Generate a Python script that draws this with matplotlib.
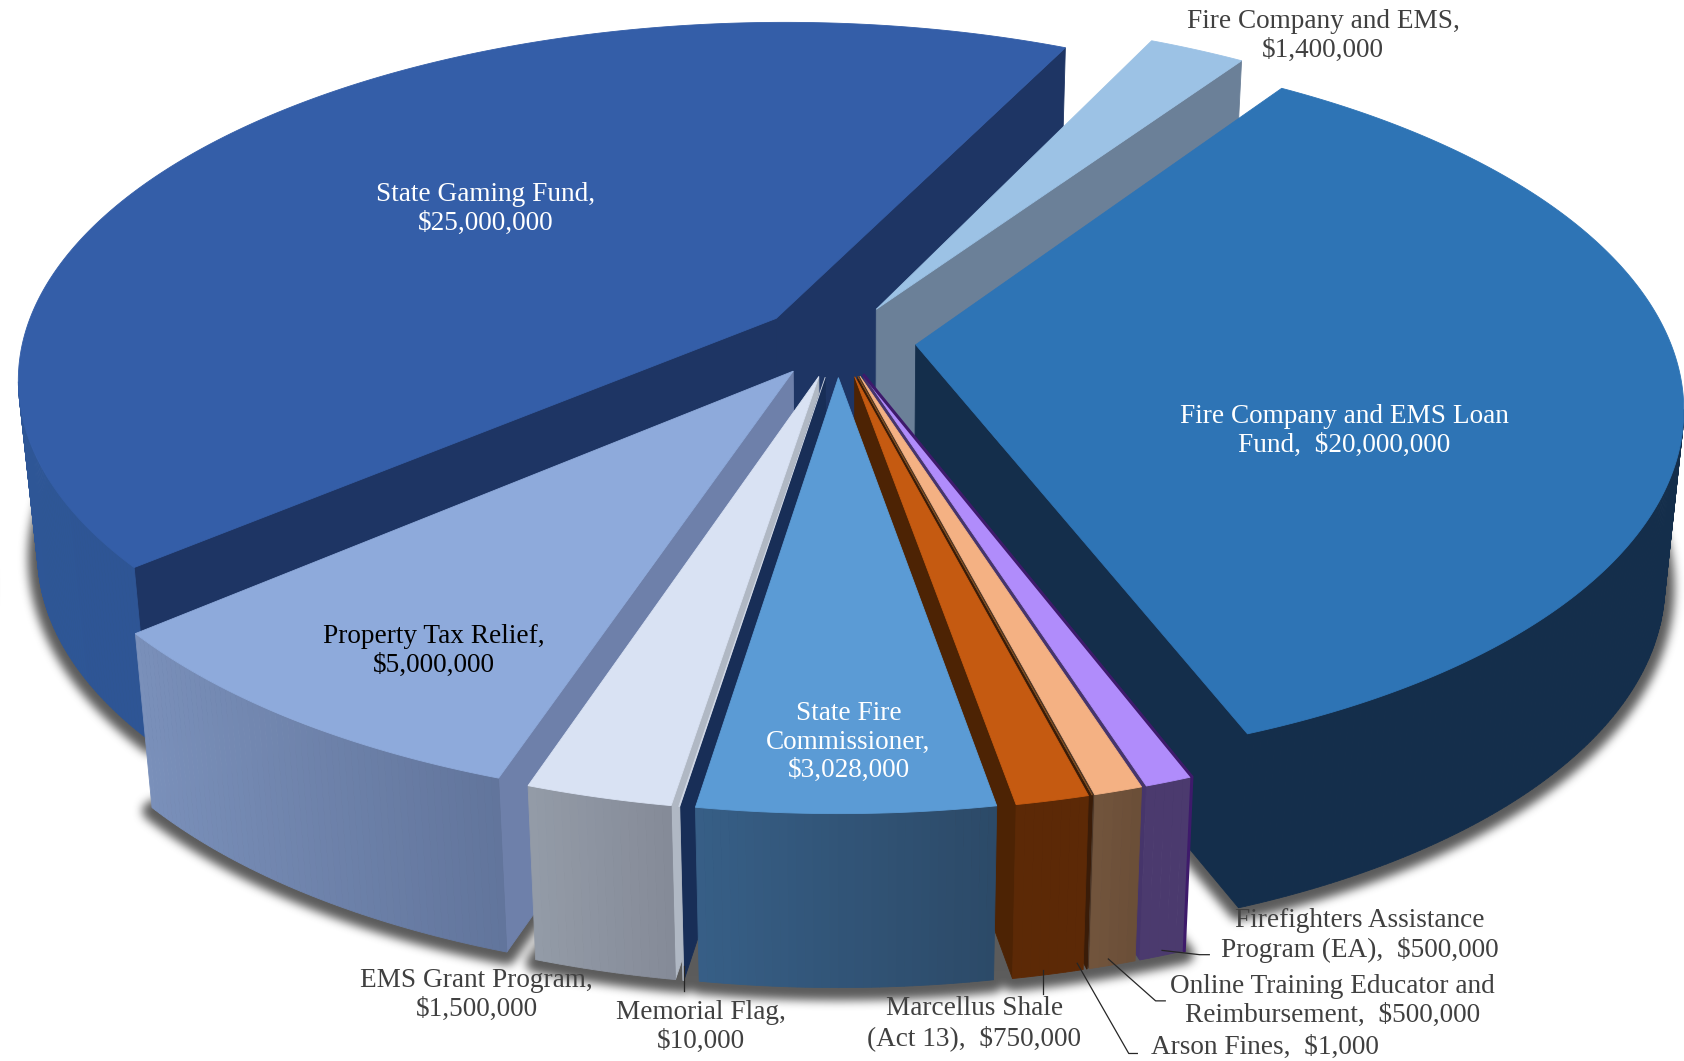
import numpy as np
import matplotlib
matplotlib.use('Agg')
import matplotlib.pyplot as plt
from matplotlib.figure import Figure
from matplotlib.backends.backend_agg import FigureCanvasAgg
from matplotlib.colors import to_rgb

# clockwise from the top of the pie
categories = ['Fire Company and EMS', 'Fire Company and EMS Loan Fund', 'Firefighters Assistance Program (EA)',
              'Online Training Educator and Reimbursement', 'Arson Fines', 'Marcellus Shale (Act 13)',
              'State Fire Commissioner', 'Memorial Flag', 'EMS Grant Program', 'Property Tax Relief',
              'State Gaming Fund']
amounts = [1400000, 20000000, 500000, 500000, 1000, 750000, 3028000, 10000, 1500000, 5000000, 25000000]

top_colors = ['#9cc2e5', '#2e74b5', '#b08cfb', '#f4b183', '#7a4a20', '#c55a11', '#5b9bd5', '#d0d8e6', '#d9e2f3',
              '#8eaadb', '#345ea8']
radial_colors = ['#6b8098', '#142e4b', '#46356b', '#4a3526', '#3a1c08', '#4d2304', '#2c4c6b', '#182e57', '#b0b8c4',
                 '#6e80aa', '#1e3564']
wall_left = ['#6b8098', '#142e4b', '#4b3a6e', '#73553d', '#3a1c08', '#5c2906', '#375f87', '#b0b8c4', '#949ca8',
             '#7a90ba', '#2e5696']
wall_right = ['#6b8098', '#142e4b', '#4b3a6e', '#6b4f38', '#3a1c08', '#5c2906', '#2c4a68', '#b0b8c4', '#858b98',
              '#62759c', '#2a4c8c']
draw_order = [10, 0, 1, 9, 8, 7, 2, 3, 4, 5, 6]

text_dark = '#404040'
labels = [
    ('State Gaming Fund,\n$25,000,000', 452, 194.5, 'white'),
    ('Fire Company and EMS Loan\nFund,  $20,000,000', 1252, 401.5, 'white'),
    ('Fire Company and EMS,\n$1,400,000', 1232, 33.5, text_dark),
    ('Property Tax Relief,\n$5,000,000', 404, 606.5, 'black'),
    ('State Fire\nCommissioner,\n$3,028,000', 790, 691, 'white'),
    ('EMS Grant Program,\n$1,500,000', 444, 926.5, text_dark),
    ('Memorial Flag,\n$10,000', 653, 956.5, text_dark),
    ('Marcellus Shale\n(Act 13),  $750,000', 907, 953, text_dark),
    ('Firefighters Assistance\nProgram (EA),  $500,000', 1266, 871.5, text_dark),
    ('Online Training Educator and\nReimbursement,  $500,000', 1241, 932.5, text_dark),
    ('Arson Fines,  $1,000', 1178, 975, text_dark),
]
leaders = [
    ([1082, 1117, 1126], [885, 889, 889]),
    ([1032, 1076, 1085], [893, 932, 932]),
    ([1003, 1051, 1059], [897, 981, 981]),
    ([971, 971], [903, 926]),
    ([637, 637], [900, 923]),
]

W, H = 1568, 988
cx, cy = 780, 317
ax_x, ax_y, persp = 702, 327, 0.1637
explode = 0.104
start_angle = 25.6
depth = 162
shrink = 0.977
vanish_x = 800


def project(u, v):
    d = 1 + persp * v
    return cx + ax_x * u / d, cy - ax_y * v / d


def lower(x, y):
    return vanish_x + (x - vanish_x) * shrink, y + depth


def wedge_points(i, edges):
    a0, a1 = edges[i], edges[i + 1]
    mid = (a0 + a1) / 2
    ou = explode * np.sin(mid)
    ov = explode * np.cos(mid)
    n = max(int(np.degrees(a1 - a0) * 2), 2)
    t = np.linspace(a0, a1, n)
    ax_, ay_ = project(ou, ov)
    rx, ry = project(ou + np.sin(t), ov + np.cos(t))
    return ax_, ay_, rx, ry


def mix(c1, c2, f):
    c1, c2 = np.array(to_rgb(c1)), np.array(to_rgb(c2))
    return tuple(c1 + (c2 - c1) * f)


def quad(ax, x0, y0, x1, y1, color):
    bx0, by0 = lower(x0, y0)
    bx1, by1 = lower(x1, y1)
    ax.fill([x0, x1, bx1, bx0], [y0, y1, by1, by0], color=color, lw=0.6, zorder=2)


amounts_arr = np.array(amounts, dtype=float)
edges = np.radians(start_angle) + np.concatenate([[0], np.cumsum(amounts_arr / amounts_arr.sum())]) * 2 * np.pi

fig = plt.figure(figsize=(16.84, 10.61), dpi=100)
ax = fig.add_axes([0, 0, 1, 1])

# soft shadow: bottom faces on a scratch canvas, blurred by hand
sfig = Figure(figsize=(16.84, 10.61), dpi=100, facecolor=(0, 0, 0, 0))
sax = sfig.add_axes([0, 0, 1, 1])
sax.patch.set_alpha(0)
sax.set_xlim(0, W)
sax.set_ylim(H, 0)
sax.axis('off')
for i in range(len(amounts)):
    axx, axy, rx, ry = wedge_points(i, edges)
    bx, by = lower(np.r_[axx, rx], np.r_[axy, ry])
    sax.fill(bx, by + 3, color='black', lw=14, joinstyle='round')
canvas = FigureCanvasAgg(sfig)
canvas.draw()
mask = np.asarray(canvas.buffer_rgba())[:, :, 3].astype(float) / 255
for _ in range(3):
    for axis in (0, 1):
        mask = sum(np.roll(mask, k, axis=axis) for k in range(-4, 5)) / 9
shadow = np.zeros(mask.shape + (4,))
shadow[:, :, :3] = 0.36
shadow[:, :, 3] = mask
ax.imshow(shadow, extent=(0, W, H, 0), aspect='auto', zorder=1, interpolation='bilinear')

for i in draw_order:
    axx, axy, rx, ry = wedge_points(i, edges)
    # front facing walls only (travelling clockwise, walls we can see run right to left)
    if rx[0] < axx:
        quad(ax, axx, axy, rx[0], ry[0], radial_colors[i])
    if axx < rx[-1]:
        quad(ax, rx[-1], ry[-1], axx, axy, radial_colors[i])
    for k in range(len(rx) - 1):
        if rx[k + 1] < rx[k]:
            f = (rx[k] - rx.min()) / max(rx.max() - rx.min(), 1)
            quad(ax, rx[k], ry[k], rx[k + 1], ry[k + 1], mix(wall_left[i], wall_right[i], f))
    ax.fill(np.r_[axx, rx], np.r_[axy, ry], color=top_colors[i], lw=0.6, zorder=2)
    if categories[i].startswith('Firefighters'):
        # thin dark rim on the right side of this slice
        bx, by = lower(rx[0], ry[0])
        ax.plot([axx, rx[0], bx], [axy, ry[0], by], color='#3e1a6b', lw=2.2, zorder=2,
                solid_joinstyle='miter')

for xs, ys in leaders:
    ax.plot(xs, ys, color='#262626', lw=0.9, zorder=3)

for text, x, y, color in labels:
    ax.text(x, y, text, ha='center', va='center', color=color, fontsize=19.6,
            family='Liberation Serif', linespacing=1.2, zorder=4)

ax.set_xlim(0, W)
ax.set_ylim(H, 0)
ax.axis('off')
fig.savefig('out.png', dpi=100, facecolor='white')
